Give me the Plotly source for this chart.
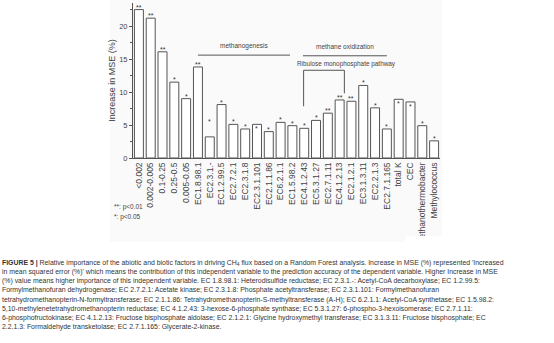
import plotly.graph_objects as go

categories = ["<0.002", "0.002-0.005", "0.1-0.25", "0.25-0.5", "0.005-0.05",
              "EC1.8.98.1", "EC2.3.1.-", "EC1.2.99.5", "EC2.7.2.1", "EC2.3.1.8",
              "EC2.3.1.101", "EC2.1.1.86", "EC6.2.1.1", "EC1.5.98.2", "EC4.1.2.43",
              "EC5.3.1.27", "EC2.7.1.11", "EC4.1.2.13", "EC2.1.2.1", "EC3.1.3.11",
              "EC2.2.1.3", "EC2.7.1.165", "total K", "CEC", "Methanothermobacter",
              "Methylococcus"]
mse_increase = [22.5, 21.2, 16.1, 11.5, 9.0,
                13.8, 3.2, 8.1, 5.1, 4.4,
                5.1, 4.0, 5.4, 4.9, 4.5,
                5.7, 6.8, 8.8, 8.6, 11.0,
                7.6, 4.4, 8.9, 8.5, 4.9,
                2.6]
significance = ["**", "**", "**", "*", "*",
                "**", "*", "*", "*", "*",
                "*", "*", "*", "*", "*",
                "*", "**", "**", "**", "*",
                "*", "*", "*", "*", "*",
                "*"]
y_ticks = [0, 5, 10, 15, 20]
legend_lines = ["**: p<0.01", "*: p<0.05"]
caption_lines = [
    "<b>FIGURE 5 |</b> Relative importance of the abiotic and biotic factors in driving CH<sub>4</sub> flux based on a Random Forest analysis. Increase in MSE (%) represented 'Increased",
    "in mean squared error (%)' which means the contribution of this independent variable to the prediction accuracy of the dependent variable. Higher Increase in MSE",
    "(%) value means higher importance of this independent variable. EC 1.8.98.1: Heterodisulfide reductase; EC 2.3.1.-: Acetyl-CoA decarboxylase; EC 1.2.99.5:",
    "Formylmethanofuran dehydrogenase; EC 2.7.2.1: Acetate kinase; EC 2.3.1.8: Phosphate acetyltransferase; EC 2.3.1.101: Formylmethanofuran",
    "tetrahydromethanopterin-N-formyltransferase; EC 2.1.1.86: Tetrahydromethanopterin-S-methyltransferase (A-H); EC 6.2.1.1: Acetyl-CoA synthetase; EC 1.5.98.2:",
    "5,10-methylenetetrahydromethanopterin reductase; EC 4.1.2.43: 3-hexose-6-phosphate synthase; EC 5.3.1.27: 6-phospho-3-hexoisomerase; EC 2.7.1.11:",
    "6-phosphofructokinase; EC 4.1.2.13: Fructose bisphosphate aldolase; EC 2.1.2.1: Glycine hydroxymethyl transferase; EC 3.1.3.11: Fructose bisphosphate; EC",
    "2.2.1.3: Formaldehyde transketolase; EC 2.7.1.165: Glycerate-2-kinase.",
]

FONT = "Liberation Sans, Arial, sans-serif"
W, H = 554, 343
L, R, T, B = 133, 114, 3, 185
PW, PH = W - L - R, H - T - B


def px(x):
    return (x - L) / PW


def py(y):
    return (H - B - y) / PH


fig = go.Figure()
fig.add_trace(go.Bar(
    x=categories, y=mse_increase,
    marker=dict(color="white", line=dict(color="#555555", width=1)),
    width=0.76, showlegend=False,
))

annotations = []
inside = {"EC2.3.1.101", "total K", "CEC"}
for cat, val, s in zip(categories, mse_increase, significance):
    if cat in inside:
        annotations.append(dict(x=cat, y=val, text=s, showarrow=False, yanchor="top",
                                yshift=1, font=dict(size=7, color="#333", family=FONT)))
    else:
        shift = 10 if cat == "EC2.3.1.-" else -3
        annotations.append(dict(x=cat, y=val, text=s, showarrow=False, yanchor="bottom",
                                yshift=shift, font=dict(size=7, color="#333", family=FONT)))

# group labels
annotations.append(dict(x=8.9, y=16.1, text="methanogenesis", showarrow=False,
                        yanchor="bottom", font=dict(size=6.5, color="#444", family=FONT)))
annotations.append(dict(x=17.45, y=16.0, text="methane oxidization", showarrow=False,
                        yanchor="bottom", font=dict(size=6.5, color="#444", family=FONT)))
annotations.append(dict(x=17.6, y=13.35, text="Ribulose monophosphate pathway", showarrow=False,
                        yanchor="bottom", font=dict(size=6.4, color="#444", family=FONT)))

shapes = [
    dict(type="rect", xref="paper", yref="paper", x0=px(110), x1=px(442), y0=py(242), y1=py(0),
         fillcolor="#fafafa", line=dict(width=0), layer="below"),
    dict(type="line", x0=5.0, x1=12.8, y0=15.6, y1=15.6, line=dict(color="#555", width=1)),
    dict(type="line", x0=13.9, x1=21.0, y0=15.5, y1=15.5, line=dict(color="#555", width=1)),
    dict(type="line", x0=13.95, x1=17.4, y0=13.3, y1=13.3, line=dict(color="#555", width=1)),
    dict(type="line", x0=13.95, x1=13.95, y0=13.3, y1=7.85, line=dict(color="#555", width=1)),
    dict(type="line", x0=17.4, x1=17.4, y0=13.3, y1=9.8, line=dict(color="#555", width=1)),
    dict(type="rect", xref="paper", yref="paper", x0=px(405), x1=px(445), y0=py(256), y1=py(236),
         fillcolor="white", line=dict(width=0), layer="above"),
]

for i, t in enumerate(legend_lines):
    annotations.append(dict(xref="paper", yref="paper", x=px(112), y=py(206.5 + 10.5 * i),
                            text=t, showarrow=False, xanchor="left", yanchor="middle",
                            font=dict(size=6.5, color="#444", family=FONT)))

for i, t in enumerate(caption_lines):
    annotations.append(dict(xref="paper", yref="paper", x=px(0), y=py(262.7 + 9.2 * i),
                            text=t, showarrow=False, xanchor="left", yanchor="middle",
                            align="left",
                            font=dict(size=6.9, color="#333", family=FONT)))

fig.update_layout(
    width=W, height=H,
    margin=dict(l=L, r=R, t=T, b=B),
    paper_bgcolor="white", plot_bgcolor="rgba(0,0,0,0)",
    font=dict(family=FONT, color="#444"),
    annotations=annotations, shapes=shapes,
    bargap=0.24,
)
fig.update_xaxes(
    type="category", range=[-0.5, 25.5], showline=True, linecolor="#555", linewidth=1,
    ticks="", tickangle=-90, tickfont=dict(size=8.5, color="#444", family=FONT),
    showgrid=False, zeroline=False,
)
fig.update_yaxes(
    range=[0, 23.5], tickvals=y_ticks, showline=True, linecolor="#555", linewidth=1,
    ticks="outside", ticklen=3, tickcolor="#555",
    minor=dict(tickvals=[2.5, 7.5, 12.5, 17.5, 22.5], ticks="outside", ticklen=2, tickcolor="#555"),
    tickfont=dict(size=7.5, color="#444", family=FONT),
    title=dict(text="Increase in MSE (%)", font=dict(size=9, color="#444", family=FONT), standoff=2),
    showgrid=False, zeroline=False,
)

fig.write_html("out.html")
